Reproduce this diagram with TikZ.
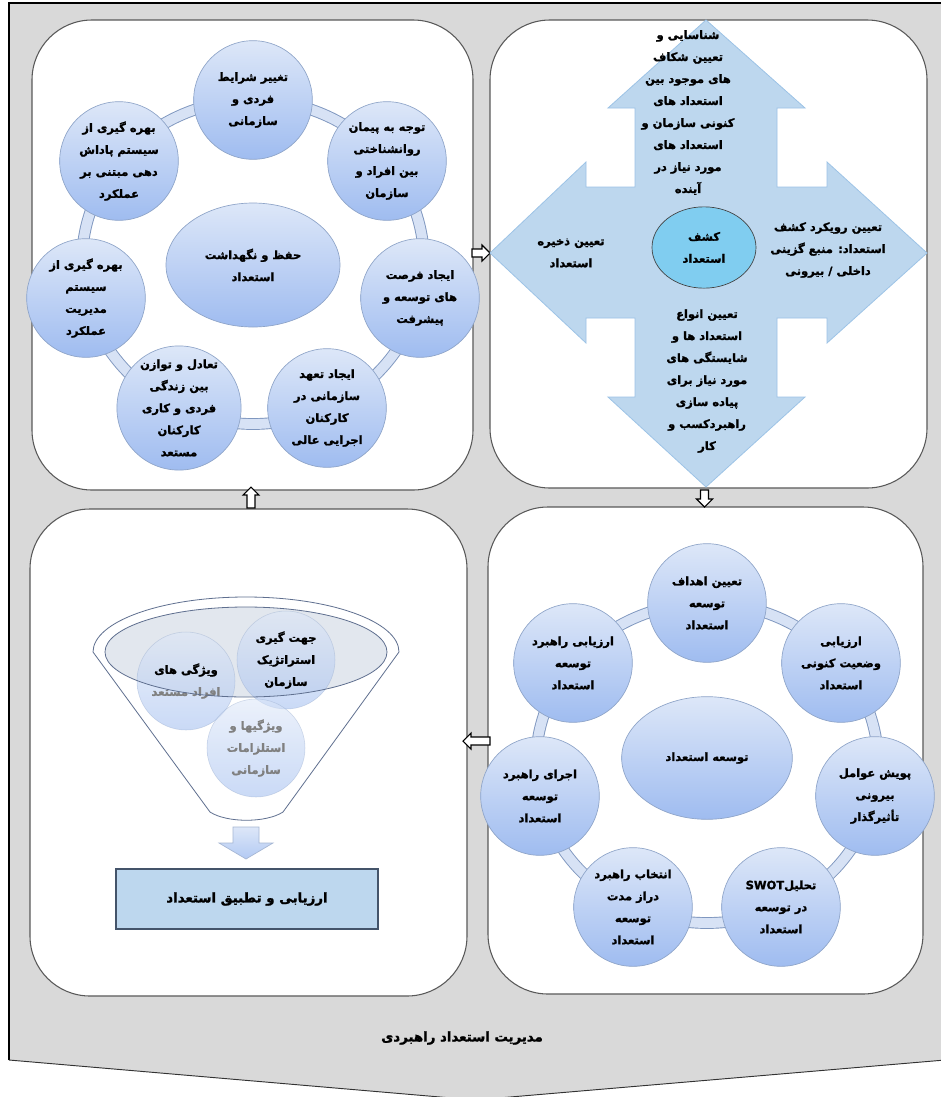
\documentclass[tikz,border=0pt]{standalone}
\usepackage{fontspec}
\newfontfamily\arabicfont[Script=Arabic, BoldFeatures={FakeBold=1.6}]{DejaVu Sans}
\TeXXeTstate=1
\usetikzlibrary{shapes.geometric,calc}
\newcommand{\fa}[1]{\beginR #1\endR}
\newcommand{\fz}{\arabicfont\bfseries\fontsize{8.6}{16.5}\selectfont}
\newcommand{\fzb}{\arabicfont\bfseries\fontsize{10}{16.5}\selectfont}
\definecolor{bggray}{HTML}{D9D9D9}
\definecolor{panelline}{HTML}{595959}
\definecolor{bubtop}{HTML}{DDE7F8}
\definecolor{bubbot}{HTML}{9FBCF0}
\definecolor{bubedge}{HTML}{8EA4C8}
\definecolor{ringedge}{HTML}{7F97BF}
\definecolor{ringfill}{HTML}{D7E2F5}
\definecolor{quadfill}{HTML}{BDD7EE}
\definecolor{quadedge}{HTML}{9DC3E6}
\definecolor{kashf}{HTML}{80CDF0}
\definecolor{funline}{HTML}{5F6F8F}
\definecolor{innerell}{HTML}{D6DDE8}
\definecolor{rectline}{HTML}{44546A}
\definecolor{fadetext}{HTML}{808080}
\tikzset{
  bgshape/.style={fill=bggray},
  bgedge/.style={draw=black, line width=1.5pt},
  bgbottom/.style={draw=black!80, line width=0.7pt},
  panel/.style={draw=panelline, fill=white, line width=0.8pt, rounded corners=45pt, inner sep=0pt},
  ringout/.style={draw=ringedge, line width=8.8pt},
  ringin/.style={draw=ringfill, line width=7.4pt},
  bub/.style={circle, draw=bubedge, line width=0.5pt, top color=bubtop, bottom color=bubbot, minimum size=89pt, inner sep=0pt, align=center, font=\fz},
  hub/.style={ellipse, draw=bubedge, line width=0.5pt, top color=bubtop, bottom color=bubbot, inner sep=0pt, align=center, font=\fz},
  fbub/.style={circle, draw=bubedge, draw opacity=0.4, top color=bubtop, bottom color=bubbot, fill opacity=0.55, text opacity=1, minimum size=73.5pt, inner sep=0pt, align=center, font=\fz},
  conn/.style={draw=black, fill=white, line width=0.8pt},
  txt/.style={align=center, inner sep=0pt, font=\fz},
  blockarr/.pic={\path[conn] (-#1,-4) -- (#1-8,-4) -- (#1-8,-8) -- (#1,0) -- (#1-8,8) -- (#1-8,4) -- (-#1,4) -- cycle;}
}
\begin{document}
\begin{tikzpicture}[x=0.75pt, y=-0.75pt]
\useasboundingbox (0,0) rectangle (940,1097);
% background chevron
\path[bgshape] (9,3) -- (945,3) -- (945,1060) -- (475,1100) -- (9,1060) -- cycle;
\path[bgedge] (9,1060) -- (9,3) -- (945,3);
\path[bgbottom] (9,1060) -- (475,1100) -- (945,1060);

% panels
\node[panel, minimum width=330.75pt, minimum height=352.5pt] (tl) at (252.5,255) {};
\node[panel, minimum width=327.75pt, minimum height=351pt] (tr) at (708.5,254) {};
\node[panel, minimum width=326.25pt, minimum height=365.25pt] (br) at (705.5,750.5) {};
\node[panel, minimum width=327.75pt, minimum height=365.25pt] (bl) at (248.5,752.5) {};

% connectors between panels
\pic at (481,253) {blockarr=9};
\pic[rotate=-90] at (704.5,498.5) {blockarr=8.5};
\pic[rotate=180] at (476.5,741) {blockarr=13.5};
\pic[rotate=90] at (251,497.5) {blockarr=10.5};

% ---------------- top-left: retention cycle ----------------
\draw[ringout] (253,262) ellipse [x radius=171, y radius=162];
\draw[ringin] (253,262) ellipse [x radius=171, y radius=162];
\node[hub, minimum width=130.5pt, minimum height=93pt] (tlhub) at (253,265) {\fa{حفظ و نگهداشت}\\\fa{استعداد}};
\node[bub] (tl1) at (253,100) {\fa{تغییر شرایط}\\\fa{فردی و}\\\fa{سازمانی}};
\node[bub] (tl2) at (387,161) {\fa{توجه به پیمان}\\\fa{روانشناختی}\\\fa{بین افراد و}\\\fa{سازمان}};
\node[bub] (tl3) at (420,298) {\fa{ایجاد فرصت}\\\fa{های توسعه و}\\\fa{پیشرفت}};
\node[bub] (tl4) at (327,408) {\fa{ایجاد تعهد}\\\fa{سازمانی در}\\\fa{کارکنان}\\\fa{اجرایی عالی}};
\node[bub] (tl5) at (179,408) {\fa{تعادل و توازن}\\\fa{بین زندگی}\\\fa{فردی و کاری}\\\fa{کارکنان}\\\fa{مستعد}};
\node[bub] (tl6) at (86,298) {\fa{بهره گیری از}\\\fa{سیستم}\\\fa{مدیریت}\\\fa{عملکرد}};
\node[bub] (tl7) at (119,161) {\fa{بهره گیری از}\\\fa{سیستم پاداش}\\\fa{دهی مبتنی بر}\\\fa{عملکرد}};

% ---------------- top-right: discovery quad arrow ----------------
\path[fill=quadfill, draw=quadedge, line width=0.6pt]
  (706,20) -- (805,108) -- (777,108) -- (777,187) -- (827,187) -- (827,162) -- (927,253)
  -- (827,343) -- (827,318) -- (777,318) -- (777,397) -- (805,397) -- (706,487)
  -- (608,397) -- (635,397) -- (635,318) -- (586,318) -- (586,343) -- (490,253)
  -- (586,162) -- (586,187) -- (635,187) -- (635,108) -- (608,108) -- cycle;
\node[ellipse, fill=kashf, draw=black!75, line width=0.5pt, minimum width=78pt, minimum height=61pt, inner sep=0pt, align=center, font=\fz] (kashf) at (704,247.5) {\fa{کشف}\\\fa{استعداد}};
\node[txt] (trtop) at (688,112.5) {\fa{شناسایی و}\\\fa{تعیین شکاف}\\\fa{های موجود بین}\\\fa{استعداد های}\\\fa{کنونی سازمان و}\\\fa{استعداد های}\\\fa{مورد نیاز در}\\\fa{آینده}};
\node[txt] (trleft) at (571,253) {\fa{تعیین ذخیره}\\\fa{استعداد}};
\node[txt] (trright) at (828,250) {\fa{تعیین رویکرد کشف}\\\fa{استعداد: منبع گزینی}\\\fa{داخلی / بیرونی}};
\node[txt] (trbot) at (707,381) {\fa{تعیین انواع}\\\fa{استعداد ها و}\\\fa{شایستگی های}\\\fa{مورد نیاز برای}\\\fa{پیاده سازی}\\\fa{راهبردکسب و}\\\fa{کار}};

% ---------------- bottom-right: development cycle ----------------
\draw[ringout] (707,763) ellipse [x radius=171, y radius=160];
\draw[ringin] (707,763) ellipse [x radius=171, y radius=160];
\node[hub, minimum width=128pt, minimum height=92pt] (brhub) at (707,758) {\fa{توسعه استعداد}};
\node[bub] (br1) at (707,603) {\fa{تعیین اهداف}\\\fa{توسعه}\\\fa{استعداد}};
\node[bub] (br2) at (841,663) {\fa{ارزیابی}\\\fa{وضعیت کنونی}\\\fa{استعداد}};
\node[bub] (br3) at (875,796) {\fa{پویش عوامل}\\\fa{بیرونی}\\\fa{تأثیرگذار}};
\node[bub] (br4) at (781,907) {\beginR تحلیل\beginL SWOT\endL\endR\\\fa{در توسعه}\\\fa{استعداد}};
\node[bub] (br5) at (633,907) {\fa{انتخاب راهبرد}\\\fa{دراز مدت}\\\fa{توسعه}\\\fa{استعداد}};
\node[bub] (br6) at (540,796) {\fa{اجرای راهبرد}\\\fa{توسعه}\\\fa{استعداد}};
\node[bub] (br7) at (573,663) {\fa{ارزیابی راهبرد}\\\fa{توسعه}\\\fa{استعداد}};

% ---------------- bottom-left: funnel ----------------
\path[fill=white, draw=funline, line width=0.6pt]
  (93,652) arc[start angle=180, end angle=360, x radius=153, y radius=55]
  -- (283,812) .. controls (266,823) and (227,823) .. (210,812) -- cycle;
\node[ellipse, fill=innerell, fill opacity=0.7, minimum width=211.5pt, minimum height=67.5pt, inner sep=0pt] (inner) at (246,652) {};
\node[fbub] (f1) at (186,681) {\fa{ویژگی های}\\\textcolor{fadetext}{\fa{افراد مستعد}}};
\node[fbub] (f2) at (286,660) {\fa{جهت گیری}\\\fa{استراتژیک}\\\fa{سازمان}};
\node[fbub, text=fadetext] (f3) at (256,748) {\fa{ویژگیها و}\\\fa{استلزامات}\\\fa{سازمانی}};
\draw[funline, line width=0.6pt] (inner.center) ellipse [x radius=141, y radius=45];
\path[top color=bubtop, bottom color=bubbot!80, draw=bubedge!80, line width=0.5pt]
  (233,827) -- (259,827) -- (259,843) -- (273,843) -- (246,859) -- (219,843) -- (233,843) -- cycle;
\node[draw=rectline, fill=quadfill, line width=0.8pt, minimum width=196.5pt, minimum height=45pt, font=\fzb] (rect) at (247,899) {\fa{ارزیابی و تطبیق استعداد}};

% title
\node[font=\fzb] (title) at (462,1038) {\fa{مدیریت استعداد راهبردی}};
\end{tikzpicture}
\end{document}
